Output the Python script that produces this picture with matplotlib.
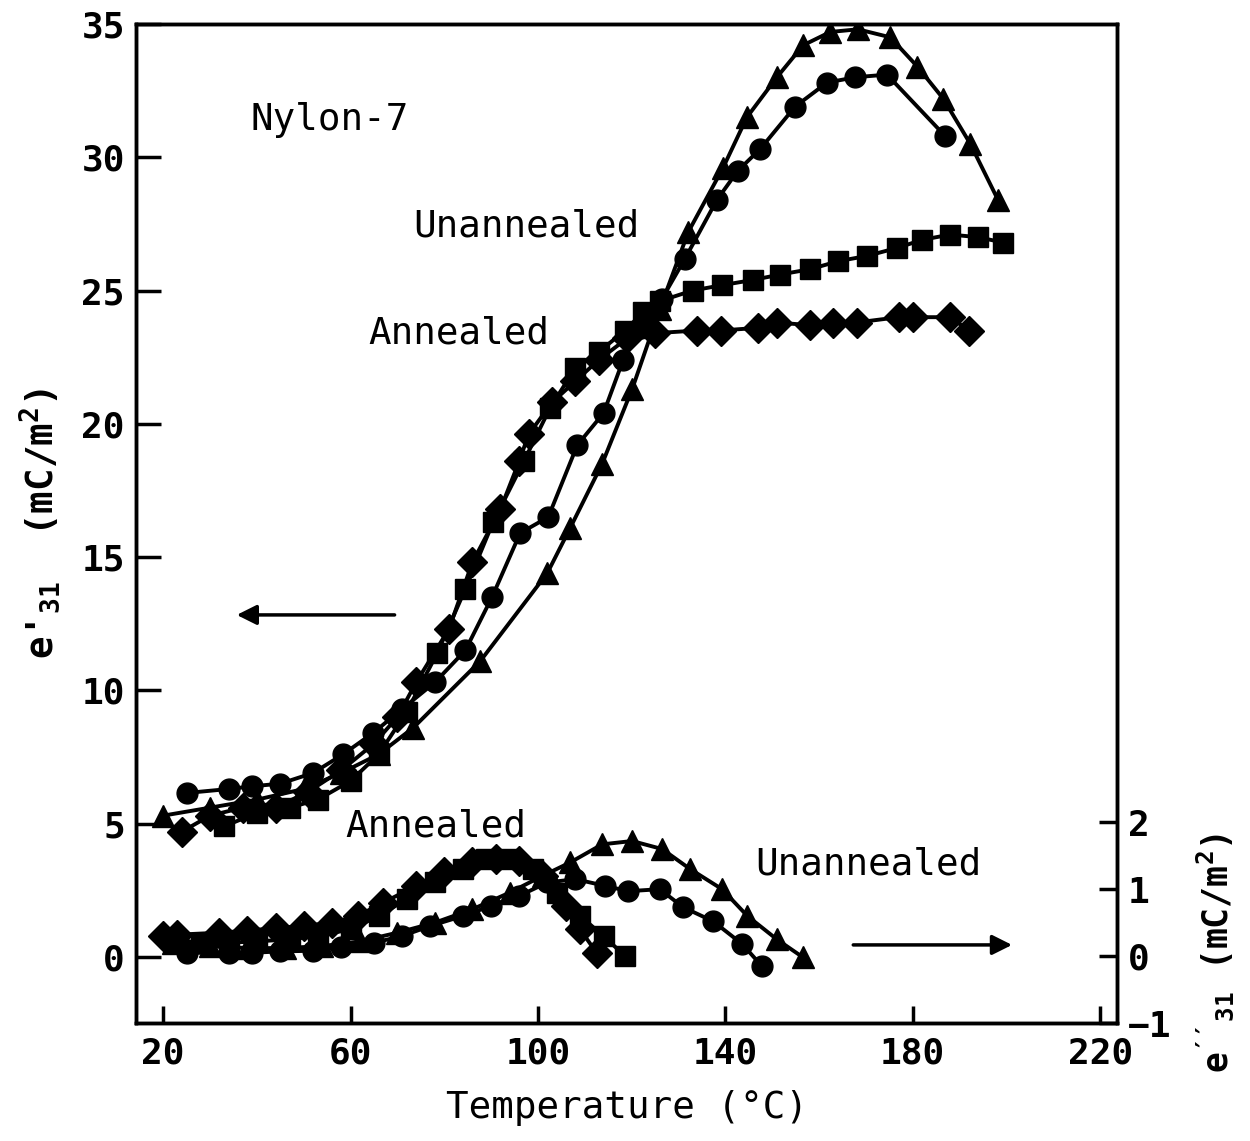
import matplotlib
matplotlib.use("Agg")
import matplotlib.pyplot as plt

plt.rcParams['font.family'] = ['DejaVu Sans Mono']
plt.rcParams['mathtext.fontset'] = 'custom'
plt.rcParams['mathtext.rm'] = 'DejaVu Sans Mono:bold'
plt.rcParams['mathtext.it'] = 'DejaVu Sans Mono:bold'
plt.rcParams['mathtext.bf'] = 'DejaVu Sans Mono:bold'

# e'31 (left axis) -- annealed
dia_T = [24, 30, 37, 44, 51, 58, 65, 70, 74, 81, 86, 92, 96, 98, 103, 108, 113, 119, 125,
         134, 139, 147, 151, 158, 163, 168, 177, 180, 188, 192]
dia_v = [4.7, 5.3, 5.6, 5.6, 6.2, 7.0, 8.0, 9.0, 10.3, 12.3, 14.8, 16.8, 18.6, 19.6, 20.8,
         21.6, 22.4, 23.2, 23.4, 23.5, 23.5, 23.6, 23.8, 23.7, 23.8, 23.8, 24.0, 24.0, 24.0, 23.5]
sq_T = [33, 40, 47, 53, 60, 66, 72, 78.5, 84.5, 90.4, 97, 102.6, 108, 113, 118.6, 122.5, 126,
        133, 139.3, 146, 151.7, 158.1, 164.1, 170.3, 176.7, 182, 188, 194, 199.3]
sq_v = [4.9, 5.4, 5.6, 5.9, 6.6, 7.6, 9.2, 11.4, 13.8, 16.3, 18.6, 20.6, 22.1, 22.7, 23.5,
        24.2, 24.6, 25.0, 25.2, 25.4, 25.6, 25.8, 26.1, 26.3, 26.6, 26.9, 27.1, 27.0, 26.8]
# e'31 (left axis) -- unannealed
cir_T = [25, 34, 39, 45, 52, 58.4, 64.8, 71, 78, 84.5, 90.2, 96.2, 102.2, 108.4, 114, 118.2,
         122, 126.5, 131.4, 138.2, 142.7, 147.4, 154.9, 161.7, 167.7, 174.5, 186.9]
cir_v = [6.15, 6.3, 6.4, 6.5, 6.9, 7.6, 8.4, 9.3, 10.3, 11.5, 13.5, 15.9, 16.5, 19.2, 20.4,
         22.4, 23.6, 24.7, 26.2, 28.4, 29.5, 30.3, 31.9, 32.8, 33.0, 33.1, 30.8]
tri_T = [20, 30, 40, 50, 58, 66, 73.4, 87.7, 102, 106.9, 113.7, 120.1, 126, 132.1, 139.5,
         144.6, 151, 156.6, 162.4, 168.3, 175.2, 181, 186.5, 192.3, 198.2]
tri_v = [5.3, 5.6, 5.9, 6.3, 6.9, 7.6, 8.6, 11.1, 14.4, 16.1, 18.5, 21.3, 24.3, 27.2, 29.6,
         31.5, 33.0, 34.2, 34.7, 34.8, 34.5, 33.4, 32.2, 30.5, 28.4]

# e''31 (right axis)
dia2_T = [20, 23, 32, 38, 44, 50, 56, 61.5, 67, 74, 80, 86, 91, 96, 101, 106, 109, 112.5]
dia2_v = [0.3, 0.32, 0.35, 0.38, 0.42, 0.45, 0.5, 0.6, 0.8, 1.05, 1.25, 1.4, 1.45, 1.42, 1.2,
          0.75, 0.4, 0.05]
sq2_T = [22, 28, 34, 40, 47, 53, 60, 66, 72, 78, 84, 89, 94, 99, 104, 109, 114, 118.6]
sq2_v = [0.25, 0.2, 0.2, 0.22, 0.25, 0.3, 0.4, 0.6, 0.85, 1.1, 1.3, 1.45, 1.45, 1.3, 0.95,
         0.6, 0.3, 0.0]
cir2_T = [25, 34, 39, 45, 52, 58, 65, 71, 77, 84, 90, 96, 102, 108, 114.3, 119.3, 126, 131,
          137.4, 143.6, 147.8]
cir2_v = [0.05, 0.05, 0.05, 0.07, 0.08, 0.13, 0.2, 0.3, 0.45, 0.6, 0.75, 0.9, 1.1, 1.15,
          1.05, 0.97, 1.0, 0.73, 0.52, 0.18, -0.15]
tri2_T = [22, 30, 38, 46, 54, 62, 70, 78, 86, 94, 101, 106.9, 113.7, 120.1, 126.5, 132.5,
          139.3, 144.7, 151, 156.6]
tri2_v = [0.2, 0.15, 0.12, 0.12, 0.15, 0.22, 0.35, 0.5, 0.7, 0.95, 1.2, 1.4, 1.67, 1.72,
          1.6, 1.3, 1.0, 0.6, 0.25, -0.02]

x_ticks = [20, 60, 100, 140, 180, 220]
left_ticks = [0, 5, 10, 15, 20, 25, 30, 35]
right_ticks = [-1, 0, 1, 2]

fig = plt.figure(figsize=(12.5, 11.41), dpi=100)
ax = fig.add_axes([0.1088, 0.1034, 0.7848, 0.8756])
ax2 = ax.twinx()

lw = 2.8
styles = [('D', 15), ('s', 14), ('o', 15), ('^', 16)]
for (T, v), (m, s) in zip([(dia_T, dia_v), (sq_T, sq_v), (cir_T, cir_v), (tri_T, tri_v)], styles):
    ax.plot(T, v, 'k-', marker=m, ms=s, lw=lw)
for (T, v), (m, s) in zip([(dia2_T, dia2_v), (sq2_T, sq2_v), (cir2_T, cir2_v), (tri2_T, tri2_v)], styles):
    ax2.plot(T, v, 'k-', marker=m, ms=s, lw=lw)

ax.set_xlim(14.2, 223.6)
ax.set_ylim(-2.48, 35.0)
ax2.set_ylim(-0.99, 13.93)

ax.set_xticks(x_ticks)
ax.set_yticks(left_ticks)
ax2.set_yticks(right_ticks)
ax.tick_params(axis='x', direction='in', length=12, width=2.5, labelsize=26, pad=10)
ax.tick_params(axis='y', direction='in', length=18, width=2.5, labelsize=26, pad=8)
ax2.tick_params(axis='y', direction='in', length=13, width=2.5, labelsize=26, pad=8)
for lab in ax.get_xticklabels() + ax.get_yticklabels() + ax2.get_yticklabels():
    lab.set_fontweight('bold')
for sp in list(ax.spines.values()) + list(ax2.spines.values()):
    sp.set_linewidth(2.5)

ax.set_xlabel('Temperature (°C)', fontsize=27, labelpad=14)
ax.set_ylabel(r"e$'_{31}$  (mC/m$^{2}$)", fontsize=27, fontweight='bold', labelpad=14)
fig.text(0.972, 0.165, r"e$''_{31}$ (mC/m$^{2}$)", fontsize=25, fontweight='bold',
         rotation=90, ha='center', va='center')

txt = dict(fontsize=27, ha='left', va='center')
ax.text(38.6, 31.4, 'Nylon-7', **txt)
ax.text(73.4, 27.4, 'Unannealed', **txt)
ax.text(63.8, 23.4, 'Annealed', **txt)
ax.text(58.8, 4.9, 'Annealed', **txt)
ax.text(146.4, 3.45, 'Unannealed', **txt)

arrow = dict(arrowstyle='-|>', lw=2.5, color='k', mutation_scale=30, shrinkA=0, shrinkB=0)
ax.annotate('', xy=(35.7, 12.83), xytext=(69.4, 12.83), arrowprops=arrow)
ax.annotate('', xy=(201.2, 0.45), xytext=(167.3, 0.45), arrowprops=arrow)

fig.savefig('out.png', dpi=100)
